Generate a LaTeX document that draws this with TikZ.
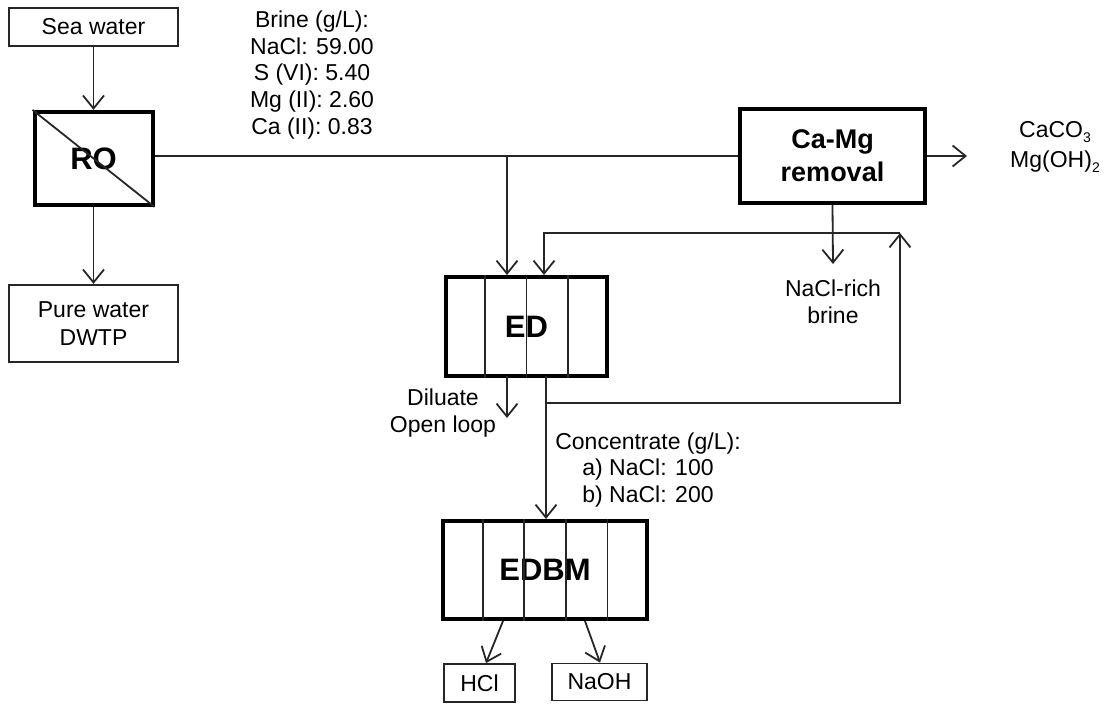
\documentclass[tikz,border=0pt]{standalone}
\usepackage{fontspec}
\setmainfont{Liberation Sans}
\usetikzlibrary{arrows.meta, positioning, calc}
\tikzset{
  thinbox/.style={rectangle,draw=black!85,line width=1.8pt,inner sep=0pt,
    align=center,font=\fontsize{23}{28}\selectfont},
  unitbox/.style={rectangle,draw=black,line width=4pt,inner sep=0pt,
    align=center,font=\fontsize{31}{34}\selectfont\bfseries},
  lbl/.style={align=center,inner sep=0pt,font=\fontsize{23}{26.7}\selectfont},
  arrow/.style={-{Straight Barb[length=13pt,width=21pt]},line width=1.8pt,draw=black!85},
  pipe/.style={line width=1.8pt,draw=black!85},
  cell/.style={line width=1.8pt,draw=black!85}
}
\newcommand{\lowsub}[1]{\raisebox{-5pt}{\fontsize{14}{14}\selectfont #1}}

\begin{document}
\begin{tikzpicture}[x=1pt,y=-1pt]
  \useasboundingbox (0,0) rectangle (1105,704);

  \node[thinbox,minimum width=169pt,minimum height=38pt] (sea) at (93.5,27) {Sea water};
  \node[unitbox,minimum width=118pt,minimum height=93pt,below=63pt of sea] (ro) {RO};
  \node[thinbox,minimum width=169pt,minimum height=77pt,below=77pt of ro] (pure) {Pure water\\ DWTP};
  \node[lbl] (brine) at (312,75) {Brine (g/L):\\ NaCl: 59.00\\ S (VI): 5.40\\ Mg (II): 2.60\\ Ca (II): 0.83};

  \node[unitbox,minimum width=185pt,minimum height=94pt,font=\fontsize{27}{33}\selectfont\bfseries]
    (camg) at (832.5,156) {Ca-Mg\\ removal};
  \node[lbl,font=\fontsize{23}{30}\selectfont] (solids) at (1055,147) {CaCO\lowsub{3}\\ Mg(OH)\lowsub{2}};
  \node[lbl] (nacl) at (833,302) {NaCl-rich\\ brine};

  \node[unitbox,minimum width=161pt,minimum height=99pt] (ed) at (526.5,326.5) {ED};
  \node[lbl] (dil) at (443,413) {Diluate\\ Open loop};
  \node[lbl] (conc) at (648,470) {Concentrate (g/L):\\ a) NaCl: 100\\ b) NaCl: 200};

  \node[unitbox,minimum width=204pt,minimum height=98pt] (edbm) at (545,570) {EDBM};
  \node[thinbox,minimum width=71pt,minimum height=38pt] (hcl) at (479.5,683) {HCl};
  \node[thinbox,minimum width=95pt,minimum height=37pt] (naoh) at (599.5,682) {NaOH};

  % membrane cells
  \foreach \i in {1,2,3}
    \draw[cell] ($(ed.north west)!\i/4!(ed.north east)$) -- ($(ed.south west)!\i/4!(ed.south east)$);
  \foreach \i in {1,2,3,4}
    \draw[cell] ($(edbm.north west)!\i/5!(edbm.north east)$) -- ($(edbm.south west)!\i/5!(edbm.south east)$);
  \draw[cell] (ro.north west) -- (ro.south east);

  \coordinate (split) at (507,156);
  \coordinate (solidsout) at (967,156);
  \coordinate (nacltip) at (833,264);
  \coordinate (edout) at (546,376);
  \coordinate (dilout) at (507,376);
  \coordinate (diltip) at (507,418);
  \coordinate (loopa) at (546,403);
  \coordinate (loopb) at (900,403);
  \coordinate (loopc) at (900,233);
  \coordinate (loopd) at (544,233);

  \draw[arrow] (sea) -- (ro);
  \draw[arrow] (ro) -- (pure);
  \draw[pipe] (ro.east |- split) -- (camg.west |- split);
  \draw[arrow] (split) -- (split |- ed.north);
  \draw[arrow] (camg.east |- solidsout) -- (solidsout);
  \draw[arrow] (camg.south) -- (nacltip);
  \draw[arrow] (edout) -- (loopa) -- (loopb) -- (loopc);
  \draw[arrow] (loopc) -- (loopd) -- (loopd |- ed.north);
  \draw[arrow] (dilout) -- (diltip);
  \draw[arrow] (edout) -- (edout |- edbm.north);
  \draw[arrow] ($(edbm.south)+(-42,0)$) -- (hcl.north -| 486,0);
  \draw[arrow] ($(edbm.south)+(40,0)$) -- (naoh.north -| 600,0);
\end{tikzpicture}
\end{document}
